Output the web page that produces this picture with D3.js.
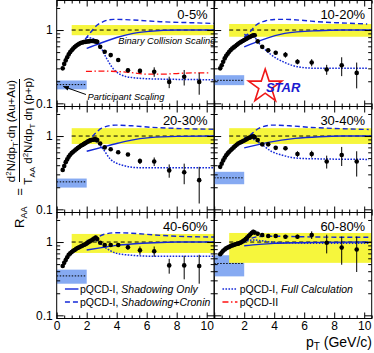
<!DOCTYPE html>
<html><head><meta charset="utf-8">
<script src="https://cdn.jsdelivr.net/npm/d3@7"></script>
<style>
body{margin:0;background:#fff;}
svg{display:block;font-family:"Liberation Sans",Arial,Helvetica,sans-serif;}
</style></head><body>
<svg id="c" width="374" height="353"></svg>
<script>
// ---------------- data ----------------
const centralities = ["0-5%","10-20%","20-30%","30-40%","40-60%","60-80%"];
const xTickLeft = [0,2,4,6,8,10];
const xTickRight = [2,4,6,8,10];
const yTickMajor = [0.1,1];
const yTickMinor = [0.2,0.3,0.4,0.5,0.6,0.7,0.8,0.9,2];

const ptLow = [0.4,0.5,0.6,0.7,0.8,0.9,1.0,1.1,1.2,1.3,1.4,1.5,1.6,1.7,1.8,1.9,2.0,2.1,2.2,2.3,2.4,2.5,2.6,2.7];
const relErrLow = [0.02,0.02,0.02,0.02,0.02,0.02,0.02,0.02,0.02,0.02,0.025,0.025,0.03,0.03,0.03,0.035,0.04,0.04,0.045,0.05,0.055,0.06,0.065,0.07];
const lowR_0_5   = [0.30,0.345,0.385,0.425,0.465,0.50,0.53,0.56,0.585,0.61,0.63,0.65,0.665,0.675,0.685,0.69,0.695,0.70,0.705,0.71,0.71,0.705,0.70,0.69];
const lowR_10_20 = [0.30,0.33,0.37,0.41,0.445,0.475,0.505,0.535,0.56,0.58,0.60,0.625,0.65,0.67,0.69,0.71,0.73,0.75,0.77,0.79,0.81,0.83,0.85,0.85];
const lowR_20_30 = [0.345,0.39,0.44,0.48,0.52,0.555,0.585,0.61,0.635,0.66,0.685,0.71,0.735,0.755,0.775,0.80,0.82,0.845,0.865,0.88,0.89,0.90,0.90,0.88];
const lowR_30_40 = [0.38,0.42,0.465,0.505,0.545,0.58,0.61,0.64,0.67,0.70,0.73,0.76,0.79,0.81,0.83,0.85,0.87,0.89,0.92,0.94,0.96,0.98,0.99,0.97];
const lowR_40_60 = [0.47,0.52,0.57,0.62,0.67,0.70,0.73,0.76,0.78,0.81,0.83,0.85,0.87,0.89,0.91,0.93,0.96,0.99,1.02,1.05,1.08,1.12,1.15,1.10];
const lowR_60_80 = [0.68,0.72,0.76,0.79,0.82,0.84,0.86,0.88,0.90,0.91,0.93,0.94,0.95,0.97,0.99,1.02,1.06,1.10,1.15,1.21,1.27,1.33,1.38,1.35];

const ptHigh = [2.9,3.2,3.6,4.1,4.75,5.55,6.5,7.5,8.5,9.5];
const highR_0_5   = [0.59,0.505,0.455,0.39,0.283,0.277,0.27,0.196,0.23,0.196];
const highE_0_5   = [0.03,0.02,0.02,0.02,0.02,0.02,0.04,0.035,0.055,0.065];
const highR_10_20 = [0.70,0.59,0.53,0.49,0.46,0.37,0.36,0.29,0.33,0.26];
const highE_10_20 = [0.04,0.03,0.03,0.03,0.04,0.03,0.04,0.045,0.095,0.10];
const highR_20_30 = [0.79,0.70,0.66,0.60,0.56,0.455,0.45,0.34,0.32,0.25];
const highE_20_30 = [0.04,0.03,0.03,0.03,0.03,0.04,0.06,0.07,0.10,0.13];
const highR_30_40 = [0.88,0.77,0.77,0.69,0.68,0.57,0.57,0.45,0.55,0.45];
const highE_30_40 = [0.04,0.03,0.03,0.03,0.04,0.05,0.06,0.09,0.16,0.17];
const highR_40_60 = [0.98,0.91,0.91,0.91,0.85,0.77,0.75,0.48,0.48,0.47];
const highE_40_60 = [0.05,0.04,0.04,0.05,0.07,0.10,0.12,0.11,0.17,0.20];
const highR_60_80 = [1.30,1.25,1.21,1.21,1.18,1.18,1.25,0.98,0.84,0.79];
const highE_60_80 = [0.08,0.06,0.06,0.06,0.07,0.08,0.15,0.28,0.35,0.40];

// binary-collision scaling band (normalisation uncertainty)
const binLo = [0.85,0.81,0.78,0.78,0.71,0.52];
const binHi = [1.17,1.21,1.28,1.28,1.29,1.33];
// participant scaling
const partVal = [0.18,0.206,0.237,0.269,0.345,0.51];
const partLo  = [0.155,0.177,0.198,0.22,0.27,0.34];
const partHi  = [0.205,0.242,0.263,0.325,0.42,0.66];

// pQCD-I, Shadowing Only
const shad_0_5   = [[2.0,0.56],[2.9,0.66],[4.0,0.79],[5.1,0.90],[6.2,0.96],[8.0,1.0],[10.5,1.0]];
const shad_10_20 = [[2.0,0.59],[3.15,0.73],[4.7,0.90],[6.9,0.98],[8.5,1.0],[10.5,1.0]];
const shad_20_30 = [[2.0,0.62],[3.0,0.70],[4.0,0.79],[5.0,0.88],[6.2,0.95],[8.0,0.99],[10.5,1.0]];
const shad_30_40 = [[2.0,0.69],[3.6,0.82],[5.4,0.93],[7.0,0.98],[8.5,1.0],[10.5,1.0]];
const shad_40_60 = [[2.0,0.78],[3.0,0.84],[4.0,0.90],[5.0,0.94],[6.5,0.98],[8.0,1.0],[10.5,1.0]];
const shad_60_80 = [[2.0,0.89],[3.0,0.93],[4.0,0.96],[5.5,0.98],[7.0,0.99],[10.3,1.0]];
// pQCD-I, Shadowing+Cronin
const cron_0_5   = [[1.9,0.75],[2.3,0.95],[2.7,1.17],[3.1,1.30],[3.8,1.40],[5.1,1.37],[6.9,1.30],[8.9,1.26],[10.5,1.23]];
const cron_10_20 = [[2.0,0.80],[2.4,0.95],[2.8,1.17],[3.4,1.33],[4.0,1.39],[4.7,1.40],[6.0,1.35],[6.9,1.30],[8.5,1.25],[10.2,1.21]];
const cron_20_30 = [[2.0,0.82],[2.5,1.05],[3.0,1.28],[3.9,1.41],[5.0,1.38],[6.2,1.32],[8.0,1.27],[10.5,1.24]];
const cron_30_40 = [[2.0,0.85],[2.5,1.07],[3.0,1.28],[3.9,1.41],[5.0,1.38],[6.5,1.31],[8.0,1.27],[10.3,1.23]];
const cron_40_60 = [[2.0,0.90],[2.6,1.12],[3.2,1.28],[4.0,1.34],[5.0,1.32],[6.5,1.25],[8.0,1.20],[10.5,1.17]];
const cron_60_80 = [[2.0,1.02],[2.5,1.13],[3.0,1.19],[4.0,1.20],[5.0,1.19],[7.0,1.17],[10.3,1.16]];
// pQCD-I, Full Calculation
const full_0_5   = [[2.0,0.80],[2.5,0.75],[2.9,0.60],[3.3,0.42],[3.7,0.31],[4.2,0.25],[5.0,0.225],[6.5,0.215],[10.5,0.21]];
const full_10_20 = [[2.0,0.87],[2.6,0.82],[3.1,0.62],[3.8,0.46],[4.7,0.36],[5.8,0.31],[6.9,0.30],[10.2,0.30]];
const full_20_30 = [[2.0,0.88],[2.6,0.84],[3.1,0.66],[3.55,0.49],[4.2,0.41],[5.5,0.37],[10.5,0.37]];
const full_30_40 = [[2.0,0.95],[2.6,0.90],[3.2,0.76],[3.8,0.62],[4.5,0.55],[5.5,0.50],[6.5,0.49],[10.3,0.48]];
const full_40_60 = [[2.0,1.05],[2.6,1.05],[3.2,0.85],[4.0,0.70],[5.0,0.66],[6.5,0.64],[10.5,0.64]];
const full_60_80 = [[2.0,1.0],[2.6,1.07],[3.0,1.05],[4.0,0.99],[5.5,0.97],[7.0,0.96],[10.3,0.96]];
// pQCD-II (0-5% only)
const pqcd2_0_5 = [[1.95,0.272],[3.0,0.275],[4.0,0.272],[5.0,0.262],[6.0,0.25],[7.0,0.25],[8.0,0.255],[9.0,0.26],[10.2,0.26]];

const lowR  = [lowR_0_5,lowR_10_20,lowR_20_30,lowR_30_40,lowR_40_60,lowR_60_80];
const highR = [highR_0_5,highR_10_20,highR_20_30,highR_30_40,highR_40_60,highR_60_80];
const highE = [highE_0_5,highE_10_20,highE_20_30,highE_30_40,highE_40_60,highE_60_80];
const shad  = [shad_0_5,shad_10_20,shad_20_30,shad_30_40,shad_40_60,shad_60_80];
const cron  = [cron_0_5,cron_10_20,cron_20_30,cron_30_40,cron_40_60,cron_60_80];
const full  = [full_0_5,full_10_20,full_20_30,full_30_40,full_40_60,full_60_80];

// ---------------- layout ----------------
const svg = d3.select("#c");
const colX = [56.7, 214.2];
const panelW = 157.5;
const rowTop = [0.5, 106.5, 212.5];
const panelH = 106;
const BLUE = "#1428d8", RED = "#ff1010", YEL = "#f6f63c", LBLUE = "#86aaf2";

const defs = svg.append("defs");
defs.append("marker").attr("id","arr").attr("viewBox","0 0 10 10").attr("refX",9).attr("refY",5)
  .attr("markerWidth",6).attr("markerHeight",6).attr("orient","auto-start-reverse")
  .append("path").attr("d","M0,1L10,5L0,9z").attr("fill","#000");

centralities.forEach((cent, i) => {
  const col = i % 2, row = Math.floor(i / 2);
  const x0 = colX[col], y0 = rowTop[row];
  const x = d3.scaleLinear().domain([0, 10.5]).range([x0, x0 + panelW]);
  const y = d3.scaleLog().domain([0.0905, 2.53]).range([y0 + panelH, y0]);
  const g = svg.append("g");
  const cid = "clip" + i;
  defs.append("clipPath").attr("id", cid).append("rect")
    .attr("x", x0).attr("y", y0).attr("width", panelW).attr("height", panelH);
  const pg = g.append("g").attr("clip-path", `url(#${cid})`);

  // participant band
  pg.append("rect").attr("x", x(0)).attr("width", x(2) - x(0))
    .attr("y", y(partHi[i])).attr("height", y(partLo[i]) - y(partHi[i])).attr("fill", LBLUE);
  pg.append("line").attr("x1", x(0)).attr("x2", x(2)).attr("y1", y(partVal[i])).attr("y2", y(partVal[i]))
    .attr("stroke", "#000").attr("stroke-width", 1).attr("stroke-dasharray", "1.5,1.5");
  // binary band
  pg.append("rect").attr("x", x(1)).attr("width", x(10.5) - x(1))
    .attr("y", y(binHi[i])).attr("height", y(binLo[i]) - y(binHi[i])).attr("fill", YEL);
  pg.append("line").attr("x1", x(1)).attr("x2", x(10.5)).attr("y1", y(1)).attr("y2", y(1))
    .attr("stroke", "#000").attr("stroke-width", 1).attr("stroke-dasharray", "4,3");

  // theory curves
  const line = d3.line().x(d => x(d[0])).y(d => y(d[1])).curve(d3.curveMonotoneX);
  const drawCurve = (data, color, dash, w) => pg.append("path").attr("d", line(data))
    .attr("fill", "none").attr("stroke", color).attr("stroke-width", w).attr("stroke-dasharray", dash);
  drawCurve(shad[i], BLUE, null, 1.4);
  drawCurve(cron[i], BLUE, "5,3", 1.4);
  drawCurve(full[i], BLUE, "1.6,1.4", 1.5);
  if (i === 0) drawCurve(pqcd2_0_5, RED, "6,2.5,1.5,2.5", 1.3);

  // data
  const pts = ptLow.map((p, k) => [p, lowR[i][k], lowR[i][k] * relErrLow[k]])
    .concat(ptHigh.map((p, k) => [p, highR[i][k], highE[i][k]]));
  pg.selectAll(".eb").data(pts).join("line")
    .attr("x1", d => x(d[0])).attr("x2", d => x(d[0]))
    .attr("y1", d => y(d[1] + d[2])).attr("y2", d => y(Math.max(d[1] - d[2], 0.01)))
    .attr("stroke", "#000").attr("stroke-width", 1);
  pg.selectAll(".mk").data(pts).join("circle")
    .attr("cx", d => x(d[0])).attr("cy", d => y(d[1])).attr("r", 2.3).attr("fill", "#000");

  // frame
  g.append("rect").attr("x", x0).attr("y", y0).attr("width", panelW).attr("height", panelH)
    .attr("fill", "none").attr("stroke", "#000").attr("stroke-width", 1);

  // ticks
  const noLab = () => "";
  const xMinor = [0.5,1,1.5,2.5,3,3.5,4.5,5,5.5,6.5,7,7.5,8.5,9,9.5,10.5];
  const tickAx = (axis, tx, ty) => {
    const a = g.append("g").attr("transform", `translate(${tx},${ty})`).call(axis);
    a.select(".domain").remove();
    a.selectAll("line").attr("stroke", "#000");
  };
  tickAx(d3.axisTop(x).tickValues([0,2,4,6,8,10]).tickSize(6).tickFormat(noLab), 0, y0 + panelH);
  tickAx(d3.axisTop(x).tickValues(xMinor).tickSize(3).tickFormat(noLab), 0, y0 + panelH);
  tickAx(d3.axisBottom(x).tickValues([0,2,4,6,8,10]).tickSize(6).tickFormat(noLab), 0, y0);
  tickAx(d3.axisBottom(x).tickValues(xMinor).tickSize(3).tickFormat(noLab), 0, y0);
  tickAx(d3.axisRight(y).tickValues(yTickMajor).tickSize(7).tickFormat(noLab), x0, 0);
  tickAx(d3.axisRight(y).tickValues(yTickMinor).tickSize(3.5).tickFormat(noLab), x0, 0);
  tickAx(d3.axisLeft(y).tickValues(yTickMajor).tickSize(7).tickFormat(noLab), x0 + panelW, 0);
  tickAx(d3.axisLeft(y).tickValues(yTickMinor).tickSize(3.5).tickFormat(noLab), x0 + panelW, 0);

  // y labels
  if (col === 0) {
    const a = g.append("g").attr("transform", `translate(${x0},0)`)
      .call(d3.axisLeft(y).tickValues(yTickMajor).tickSize(0).tickPadding(4).tickFormat(d => d === 1 ? "1" : "0.1"));
    a.select(".domain").remove();
    a.selectAll("text").attr("font-size", 12).attr("font-family", "Liberation Sans, Arial, sans-serif").attr("fill", "#000");
  }
  // x labels
  if (row === 2) {
    const a = g.append("g").attr("transform", `translate(0,${y0 + panelH})`)
      .call(d3.axisBottom(x).tickValues(col === 0 ? xTickLeft : xTickRight).tickSize(0).tickPadding(3));
    a.select(".domain").remove();
    a.selectAll("text").attr("font-size", 12).attr("font-family", "Liberation Sans, Arial, sans-serif").attr("fill", "#000");
  }

  // centrality label
  g.append("text").attr("x", x0 + panelW - 6.5).attr("y", y0 + 18).attr("text-anchor", "end")
    .attr("font-size", 13).text(cent);

  // annotations
  if (i === 0) {
    g.append("text").attr("x", x(4.1)).attr("y", y0 + 43).attr("font-size", 9.3)
      .attr("font-style", "italic").text("Binary Collision Scaling");
    g.append("text").attr("x", x(2.05)).attr("y", y0 + 99.5).attr("font-size", 9.3)
      .attr("font-style", "italic").text("Participant Scaling");
    g.append("line").attr("x1", x(1.95)).attr("y1", y0 + 94).attr("x2", x(0.45)).attr("y2", y0 + 86)
      .attr("stroke", "#000").attr("stroke-width", 1).attr("marker-end", "url(#arr)");
  }
  if (i === 1) {
    g.append("path").attr("d", d3.symbol().type(d3.symbolStar).size(345)())
      .attr("transform", `translate(${x(3.4)},${y0 + 86})`)
      .attr("fill", "#fff").attr("stroke", "#f01818").attr("stroke-width", 1.6);
    g.append("text").attr("x", x(3.45)).attr("y", y0 + 91.5).attr("font-size", 13)
      .attr("font-weight", "bold").attr("font-style", "italic").attr("fill", "#1a1ad0").text("STAR");
  }
  if (i === 4) {
    const lg = [[ "Shadowing Only", null, y0 + 80 ], [ "Shadowing+Cronin", "5,3", y0 + 93 ]];
    lg.forEach(([lab, dash, yy]) => {
      g.append("line").attr("x1", x(0.55)).attr("x2", x(1.45)).attr("y1", yy - 3.5).attr("y2", yy - 3.5)
        .attr("stroke", BLUE).attr("stroke-width", 1.4).attr("stroke-dasharray", dash);
      const t = g.append("text").attr("x", x(1.55)).attr("y", yy).attr("font-size", 10.5);
      t.append("tspan").text("pQCD-I, ");
      t.append("tspan").attr("font-style", "italic").text(lab);
    });
  }
  if (i === 5) {
    const lg = [[ "pQCD-I, ", "Full Calculation", BLUE, "1.6,1.4", y0 + 80 ], [ "pQCD-II", "", RED, "6,2.5,1.5,2.5", y0 + 93 ]];
    lg.forEach(([a, b, c, dash, yy]) => {
      g.append("line").attr("x1", x(0.55)).attr("x2", x(1.55)).attr("y1", yy - 3.5).attr("y2", yy - 3.5)
        .attr("stroke", c).attr("stroke-width", 1.4).attr("stroke-dasharray", dash);
      const t = g.append("text").attr("x", x(1.7)).attr("y", yy).attr("font-size", 10.5);
      t.append("tspan").text(a);
      if (b) t.append("tspan").attr("font-style", "italic").text(b);
    });
  }
});

// x axis title
const xt = svg.append("text").attr("x", 372).attr("y", 346.5).attr("text-anchor", "end").attr("font-size", 14);
xt.append("tspan").text("p");
xt.append("tspan").attr("font-size", 10).attr("dy", 3).text("T");
xt.append("tspan").attr("dy", -3).text(" (GeV/c)");

// y axis title (rotated)
const yt = svg.append("g").attr("transform", "translate(19,131) rotate(-90)");
const r = yt.append("text").attr("x", -97).attr("y", 5).attr("font-size", 13);
r.append("tspan").text("R");
r.append("tspan").attr("font-size", 9).attr("dy", 3).text("AA");
yt.append("text").attr("x", -61).attr("y", 4.5).attr("font-size", 13).attr("text-anchor", "middle").text("=");
yt.append("line").attr("x1", -51).attr("x2", 52).attr("y1", 0.5).attr("y2", 0.5).attr("stroke", "#000").attr("stroke-width", 1);
const num = yt.append("text").attr("x", 0).attr("y", -4).attr("font-size", 11.5).attr("text-anchor", "middle");
num.append("tspan").text("d");
num.append("tspan").attr("font-size", 8).attr("dy", -4).text("2");
num.append("tspan").attr("dy", 4).text("N/dp");
num.append("tspan").attr("font-size", 8).attr("dy", 3).text("T");
num.append("tspan").attr("dy", -3).text("·dη (Au+Au)");
const den = yt.append("text").attr("x", 0).attr("y", 12.5).attr("font-size", 11.5).attr("text-anchor", "middle");
den.append("tspan").text("T");
den.append("tspan").attr("font-size", 8).attr("dy", 3).text("AA");
den.append("tspan").attr("dy", -3).text(" d");
den.append("tspan").attr("font-size", 8).attr("dy", -4).text("2");
den.append("tspan").attr("dy", 4).text("N/dp");
den.append("tspan").attr("font-size", 8).attr("dy", 3).text("T");
den.append("tspan").attr("dy", -3).text(" dη (p+p)");
</script>
</body></html>
